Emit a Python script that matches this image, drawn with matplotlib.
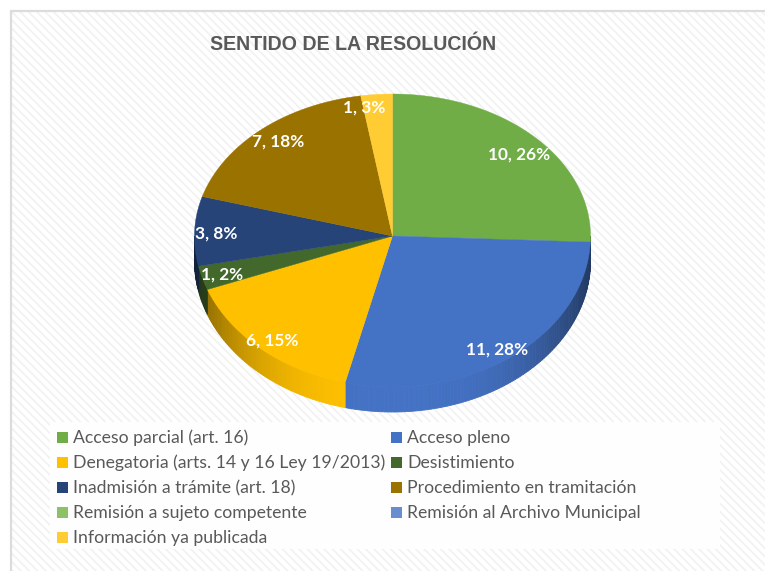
import numpy as np
import matplotlib
matplotlib.use("Agg")
import matplotlib.pyplot as plt
from matplotlib.patches import Rectangle
from matplotlib.colors import to_rgb

categories = ["Acceso parcial (art. 16)", "Acceso pleno",
              "Denegatoria (arts. 14 y 16 Ley 19/2013)", "Desistimiento",
              "Inadmisión a trámite (art. 18)", "Procedimiento en tramitación",
              "Remisión a sujeto competente", "Remisión al Archivo Municipal",
              "Información ya publicada"]
values = [10, 11, 6, 1, 3, 7, 0, 0, 1]
percents = [26, 28, 15, 2, 8, 18, 0, 0, 3]
colors = ["#70ad47", "#4472c4", "#ffc000", "#43682b", "#264478",
          "#9a7200", "#8cc168", "#698ed0", "#ffcd33"]
title = "SENTIDO DE LA RESOLUCIÓN"

# label centres in pixels, slices with a value only
label_xy = {0: (519, 155), 1: (497, 350), 2: (272, 341), 3: (222, 275),
            4: (216, 234), 5: (278, 142), 8: (364, 108)}

cx, cy = 392.5, 236
rx = 198
ry_back, ry_front = 142, 151
depth = 25

plt.rcParams["hatch.linewidth"] = 1.3

fig = plt.figure(figsize=(7.65, 5.71), dpi=100)
ax = fig.add_axes([0, 0, 1, 1])
ax.set_xlim(0, 765)
ax.set_ylim(571, 0)
ax.axis("off")

# chart area with the diagonal stripes
ax.add_patch(Rectangle((11, 11), 760, 570, facecolor="white", edgecolor="#f2f2f2",
                       hatch="\\\\\\\\", lw=0, zorder=1))
ax.plot([11, 11], [571, 11], color="#dcdcdc", lw=1.6, zorder=2, solid_capstyle="butt")
ax.plot([10, 765], [11, 11], color="#dcdcdc", lw=1.6, zorder=2, solid_capstyle="butt")


def ellipse(theta):
    ry = np.where(np.cos(theta) >= 0, ry_back, ry_front)
    return cx + rx * np.sin(theta), cy - ry * np.cos(theta)


edges = np.radians(np.concatenate([[0], np.cumsum(values)]) / sum(values) * 360)

# side wall, thin strips darkening towards the sides
for i, col in enumerate(colors):
    a0 = max(edges[i], np.pi / 2)
    a1 = min(edges[i + 1], 3 * np.pi / 2)
    if a1 <= a0:
        continue
    steps = np.linspace(a0, a1, max(2, int((a1 - a0) * 60)))
    for t0, t1 in zip(steps[:-1], steps[1:]):
        t = np.array([t0, t1])
        x, y = ellipse(t)
        shade = np.array(to_rgb(col)) * (1 - 0.5 * abs(np.sin((t0 + t1) / 2)) ** 3)
        ax.fill(np.r_[x, x[::-1]], np.r_[y, y[::-1] + depth],
                facecolor=shade, edgecolor=shade, lw=0.6, zorder=3)

# top of the pie
for i, col in enumerate(colors):
    if values[i] == 0:
        continue
    t = np.linspace(edges[i], edges[i + 1], 120)
    x, y = ellipse(t)
    ax.fill(np.r_[cx, x], np.r_[cy, y], color=col, lw=0.3, ec=col, zorder=4)

for i, (lx, ly) in label_xy.items():
    ax.text(lx, ly, f"{values[i]}, {percents[i]}%", color="white", fontsize=12.4,
            fontweight="bold", family="Lato", ha="center", va="center", zorder=6)

ax.text(353.5, 44, title, color="#595959", fontsize=14.1, fontweight="bold",
        family="Liberation Sans", ha="center", va="center", zorder=6)

# legend
ax.add_patch(Rectangle((50, 422), 670, 127, facecolor="#fefefe", lw=0, zorder=5))
for i, name in enumerate(categories):
    row = i // 2
    col = i % 2
    sx = 57 + col * 334
    sy = 437 + row * 25
    ax.add_patch(Rectangle((sx, sy - 5.5), 11, 11, facecolor=colors[i], lw=0, zorder=6))
    ax.text(sx + 16, sy + 1, name, color="#595959", fontsize=12.7, family="Lato",
            ha="left", va="center", zorder=6)

fig.savefig("out.png", dpi=100)
